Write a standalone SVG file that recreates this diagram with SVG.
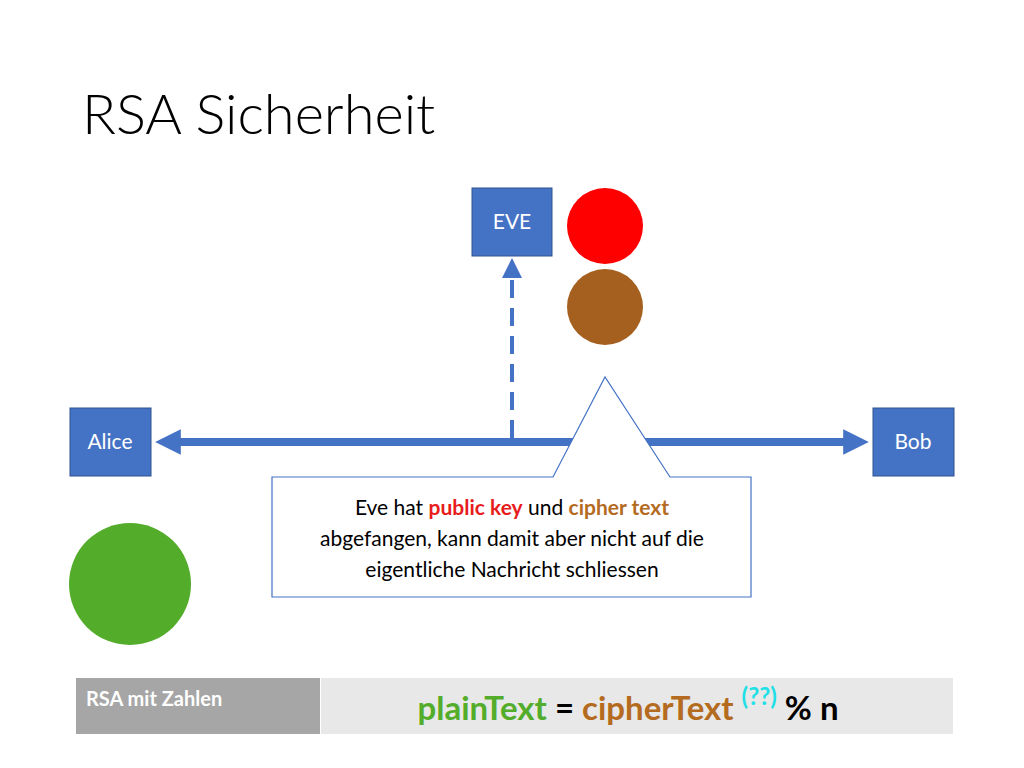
<svg xmlns="http://www.w3.org/2000/svg" width="1024" height="768" viewBox="0 0 1024 768">
<defs>
<style>
text{font-family:Lato,"Open Sans","Liberation Sans",sans-serif}
.box{fill:#4472c4;stroke:#2f528f;stroke-width:1}
.lbl{fill:#fff;font-size:21px;text-anchor:middle}
</style>
<marker id="ah" viewBox="0 0 10 10" refX="5" refY="5" markerWidth="3.2" markerHeight="3.2" orient="auto-start-reverse"><path d="M0,0 L10,5 L0,10 z" fill="#4472c4"/></marker>
<marker id="ah2" viewBox="0 0 10 10" refX="5" refY="5" markerWidth="5" markerHeight="5" orient="auto"><path d="M0,0 L10,5 L0,10 z" fill="#4472c4"/></marker>
</defs>
<rect width="1024" height="768" fill="#fff"/>
<text x="82" y="134" font-size="56" fill="#000" style="font-weight:300">RSA Sicherheit</text>
<g id="connectors">
<line x1="168" y1="442" x2="856" y2="442" stroke="#4472c4" stroke-width="8" marker-start="url(#ah)" marker-end="url(#ah)"/>
<line x1="512" y1="438" x2="512" y2="268" stroke="#4472c4" stroke-width="4" stroke-dasharray="18,10" marker-end="url(#ah2)"/>
</g>
<g id="eve"><rect class="box" x="472" y="188" width="80" height="68"/><text class="lbl" x="512" y="229">EVE</text></g>
<g id="alice"><rect class="box" x="70" y="408" width="81" height="68"/><text class="lbl" x="110" y="449">Alice</text></g>
<g id="bob"><rect class="box" x="873" y="408" width="81" height="68"/><text class="lbl" x="913" y="449">Bob</text></g>
<g id="circles">
<circle cx="605" cy="226" r="38" fill="#ff0000"/>
<circle cx="605" cy="307" r="38" fill="#a55f1e"/>
<circle cx="130" cy="584" r="61" fill="#53ad2b"/>
</g>
<g id="callout">
<path d="M272,477 H553 L605,377 L670,477 H751 V597 H272 Z" fill="#fff" stroke="#4472c4" stroke-width="1.2"/>
<text x="512" y="515" font-size="21" text-anchor="middle" fill="#000">Eve hat <tspan fill="#e81c1c" font-weight="bold">public key</tspan> und <tspan fill="#b46b1f" font-weight="bold">cipher text</tspan></text>
<text x="512" y="546" font-size="21" text-anchor="middle" fill="#000">abgefangen, kann damit aber nicht auf die</text>
<text x="512" y="577" font-size="21" text-anchor="middle" fill="#000">eigentliche Nachricht schliessen</text>
</g>
<g id="table">
<rect x="76" y="678" width="244" height="56" fill="#a6a6a6"/>
<rect x="321" y="678" width="632" height="56" fill="#e8e8e8"/>
<text x="86" y="706" font-size="20" font-weight="bold" fill="#fff">RSA mit Zahlen</text>
<text x="628" y="720" font-size="33" font-weight="bold" text-anchor="middle"><tspan fill="#53ad2b">plainText</tspan><tspan fill="#000"> = </tspan><tspan fill="#b46b1f">cipherText </tspan><tspan fill="#1ee0e6" font-size="24" dy="-15">(??)</tspan><tspan fill="#000" dy="15"> % n</tspan></text>
</g>
</svg>
